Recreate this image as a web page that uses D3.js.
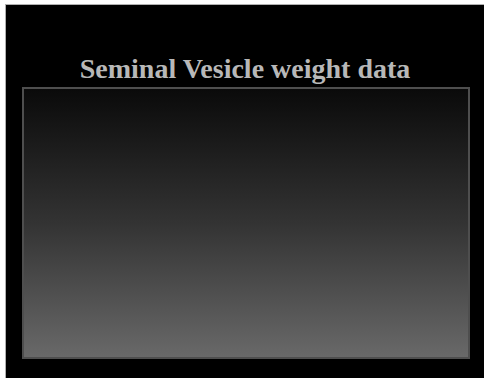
<!DOCTYPE html>
<html>
<head>
<meta charset="utf-8">
<script src="https://cdn.jsdelivr.net/npm/d3@7"></script>
<style>
  html, body { margin: 0; padding: 0; background: #ffffff; }
  svg { display: block; }
</style>
</head>
<body>
<svg id="chart" width="484" height="378"></svg>
<script>
// Data (the reference shows an empty plot panel: no marks)
const titleText = "Seminal Vesicle weight data";
const categories = [];
const seriesValues = [];
const tickLabels = [];

const W = 484, H = 378;
const svg = d3.select("#chart");

const defs = svg.append("defs");
const grad = defs.append("linearGradient")
  .attr("id", "panelGrad")
  .attr("x1", 0).attr("y1", 0).attr("x2", 0).attr("y2", 1);
grad.append("stop").attr("offset", "0%").attr("stop-color", "#0a0a0a");
grad.append("stop").attr("offset", "50%").attr("stop-color", "#333333");
grad.append("stop").attr("offset", "100%").attr("stop-color", "#696969");

// outer frame
svg.append("rect")
  .attr("x", 5.5).attr("y", 4.5)
  .attr("width", W - 5).attr("height", H - 4)
  .attr("fill", "#000")
  .attr("stroke", "#b0b0b0")
  .attr("stroke-width", 1);

// plot panel
const panel = { left: 23, top: 88, right: 469, bottom: 358 };
const x = d3.scaleBand().domain(categories).range([panel.left, panel.right]);
const y = d3.scaleLinear().domain([0, 1]).range([panel.bottom, panel.top]);

svg.append("rect")
  .attr("x", x.range()[0]).attr("y", y.range()[1])
  .attr("width", x.range()[1] - x.range()[0])
  .attr("height", y.range()[0] - y.range()[1])
  .attr("fill", "url(#panelGrad)")
  .attr("stroke", "#4e4e4e")
  .attr("stroke-width", 2);

// title
svg.append("text")
  .attr("x", 245).attr("y", 78)
  .attr("text-anchor", "middle")
  .attr("font-family", "'Liberation Serif', 'Times New Roman', serif")
  .attr("font-weight", "bold")
  .attr("font-size", 28)
  .attr("fill", "#b8b8b8")
  .text(titleText);
</script>
</body>
</html>
